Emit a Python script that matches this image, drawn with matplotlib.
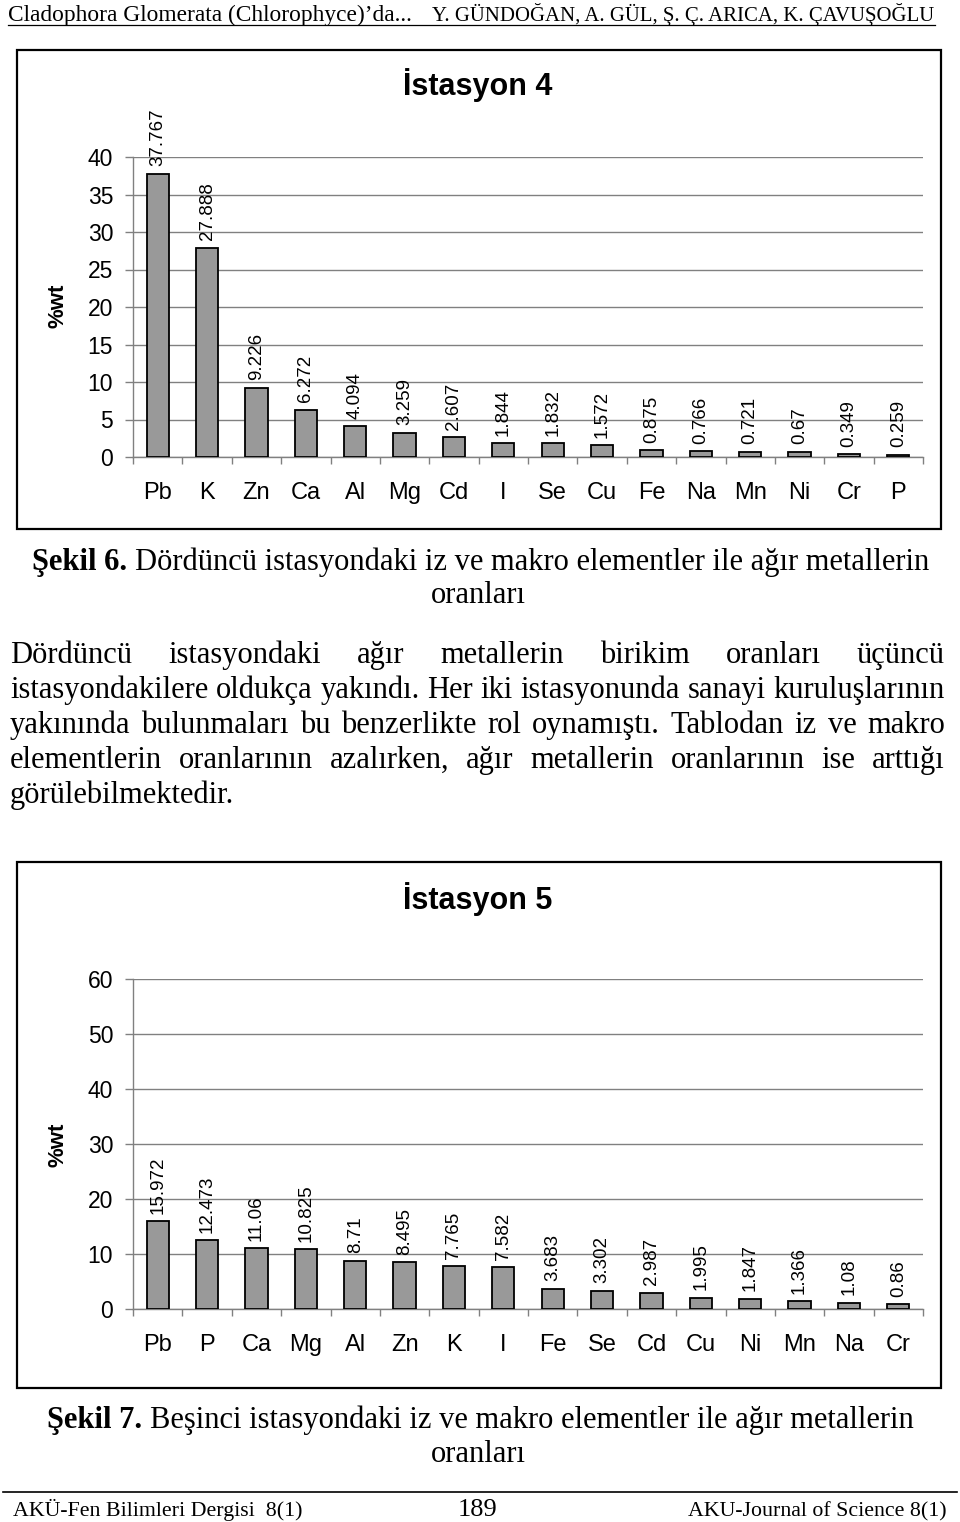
import numpy as np
import matplotlib
matplotlib.use("Agg")
import matplotlib.pyplot as plt
from matplotlib.patches import Rectangle
from matplotlib.lines import Line2D

# ---------------- data ----------------
st4_elements = ["Pb", "K", "Zn", "Ca", "Al", "Mg", "Cd", "I", "Se", "Cu",
                "Fe", "Na", "Mn", "Ni", "Cr", "P"]
st4_values = [37.767, 27.888, 9.226, 6.272, 4.094, 3.259, 2.607, 1.844,
              1.832, 1.572, 0.875, 0.766, 0.721, 0.67, 0.349, 0.259]
st4_yticks = [0, 5, 10, 15, 20, 25, 30, 35, 40]

st5_elements = ["Pb", "P", "Ca", "Mg", "Al", "Zn", "K", "I", "Fe", "Se",
                "Cd", "Cu", "Ni", "Mn", "Na", "Cr"]
st5_values = [15.972, 12.473, 11.06, 10.825, 8.71, 8.495, 7.765, 7.582,
              3.683, 3.302, 2.987, 1.995, 1.847, 1.366, 1.08, 0.86]
st5_yticks = [0, 10, 20, 30, 40, 50, 60]

header_left = "Cladophora Glomerata (Chlorophyce)\u2019da..."
header_right = "Y. GÜNDOĞAN, A. GÜL, Ş. Ç. ARICA, K. ÇAVUŞOĞLU"
caption6_bold = "Şekil 6."
caption6_rest = "Dördüncü istasyondaki iz ve makro elementler ile ağır metallerin"
caption7_bold = "Şekil 7."
caption7_rest = "Beşinci istasyondaki iz ve makro elementler ile ağır metallerin"
caption_line2 = "oranları"
paragraph_lines = [
    "Dördüncü istasyondaki ağır metallerin birikim oranları üçüncü",
    "istasyondakilere oldukça yakındı. Her iki istasyonunda sanayi kuruluşlarının",
    "yakınında bulunmaları bu benzerlikte rol oynamıştı. Tablodan iz ve makro",
    "elementlerin oranlarının azalırken, ağır metallerin oranlarının ise arttığı",
    "görülebilmektedir.",
]
footer_left = "AKÜ-Fen Bilimleri Dergisi  8(1)"
footer_mid = "189"
footer_right = "AKU-Journal of Science 8(1)"

# ---------------- figure ----------------
W, H, DPI = 960, 1522, 100
fig = plt.figure(figsize=(W / DPI, H / DPI), dpi=DPI)
fig.patch.set_facecolor("white")
renderer = fig.canvas.get_renderer()

SANS = "Liberation Sans"
SERIF = "Liberation Serif"
GRAY = "#808080"


def fx(x):
    return x / W


def fy(y):
    return 1 - y / H


def text_width(t):
    return t.get_window_extent(renderer).width


def fit_text(s, x0, x1, base_y, family=SERIF, size=14, weight="normal"):
    t = fig.text(0, 0, s, fontsize=size, family=family, va="baseline", weight=weight)
    w = text_width(t)
    t.set_fontsize(size * (x1 - x0) / w)
    t.set_position((fx(x0), fy(base_y)))
    return t


def hline(x0, x1, y, lw=1.0, color="black"):
    fig.add_artist(Line2D([fx(x0), fx(x1)], [fy(y), fy(y)],
                          transform=fig.transFigure, color=color, lw=lw))


def draw_chart(box, ax_rect, title_xy, ylabel_xy, cats, vals, yticks, title):
    bx0, by0, bx1, by1 = box
    fig.add_artist(Rectangle((fx(bx0), fy(by1)), (bx1 - bx0) / W, (by1 - by0) / H,
                             transform=fig.transFigure, fill=False,
                             ec="black", lw=1.6))
    l, t, r, b = ax_rect
    ax = fig.add_axes([fx(l), fy(b), (r - l) / W, (b - t) / H])
    n = len(cats)
    x = np.arange(n)
    bars = ax.bar(x, vals, width=0.45, color="#999999", edgecolor="black",
                  linewidth=1.3, zorder=3)
    for rect, v in zip(bars, vals):
        ax.annotate(f"{v:g}", (rect.get_x() + rect.get_width() / 2, rect.get_height()),
                    xytext=(0, 5.5), textcoords="offset points", rotation=90,
                    ha="center", va="bottom", fontsize=13.5, family=SANS, zorder=4)
    ax.set_xlim(-0.5, n - 0.5)
    ax.set_ylim(yticks[0], yticks[-1])
    ax.set_yticks(yticks)
    ax.set_yticklabels([str(v) for v in yticks], family=SANS)
    ax.yaxis.grid(True, color=GRAY, lw=1.0, zorder=0)
    ax.set_axisbelow(True)
    for s in ("top", "right"):
        ax.spines[s].set_visible(False)
    for s in ("left", "bottom"):
        ax.spines[s].set_color(GRAY)
        ax.spines[s].set_linewidth(1.0)
    ax.set_xticks(np.arange(n + 1) - 0.5)
    ax.set_xticklabels([])
    ax.set_xticks(x, minor=True)
    ax.set_xticklabels(cats, minor=True, family=SANS)
    ax.tick_params(axis="x", which="major", length=5, color=GRAY, width=1)
    ax.tick_params(axis="x", which="minor", length=0, pad=18, labelsize=17)
    ax.tick_params(axis="y", length=5.8, color=GRAY, width=1, pad=8.5, labelsize=16.5)
    ax.set_facecolor("none")
    fig.text(fx(title_xy[0]), fy(title_xy[1]), title, ha="center", va="center",
             fontsize=22, weight="bold", family=SANS)
    fig.text(fx(ylabel_xy[0]), fy(ylabel_xy[1]), "%wt", ha="center", va="center",
             rotation=90, fontsize=16, weight="bold", family=SANS)
    return ax


# ---------------- header ----------------
fit_text(header_left, 8, 412, 21, size=14)
fit_text(header_right, 432, 935, 21, size=14)
hline(8, 935, 24.5, lw=0.9)

# ---------------- chart 1 ----------------
draw_chart((17, 50, 941, 529), (133, 157, 923, 457), (478, 85), (58, 306),
           st4_elements, st4_values, st4_yticks, "İstasyon 4")

# ---------------- caption 6 ----------------
BODY = 22


def caption(bold, rest, x0, base_y):
    tb = fig.text(fx(x0), fy(base_y), bold, fontsize=BODY, family=SERIF,
                  weight="bold", va="baseline")
    wb = text_width(tb)
    fig.text(fx(x0 + wb + 7.5), fy(base_y), rest, fontsize=BODY, family=SERIF,
             va="baseline")


caption(caption6_bold, caption6_rest, 32, 570)
fig.text(fx(478), fy(603), caption_line2, fontsize=BODY, family=SERIF,
         va="baseline", ha="center")

# ---------------- paragraph (justified) ----------------
PX0, PX1 = 10, 945
base = 663
for i, line in enumerate(paragraph_lines):
    y = base + i * 35
    words = line.split()
    if i == len(paragraph_lines) - 1:
        fig.text(fx(PX0), fy(y), line, fontsize=BODY, family=SERIF, va="baseline")
        continue
    texts = [fig.text(0, 0, w, fontsize=BODY, family=SERIF, va="baseline") for w in words]
    widths = [text_width(t) for t in texts]
    gap = (PX1 - PX0 - sum(widths)) / (len(words) - 1)
    xx = PX0
    for t, w in zip(texts, widths):
        t.set_position((fx(xx), fy(y)))
        xx += w + gap

# ---------------- chart 2 ----------------
draw_chart((17, 862, 941, 1388), (133, 979, 923, 1309), (478, 899), (58, 1145),
           st5_elements, st5_values, st5_yticks, "İstasyon 5")

# ---------------- caption 7 ----------------
caption(caption7_bold, caption7_rest, 47, 1428)
fig.text(fx(478), fy(1462), caption_line2, fontsize=BODY, family=SERIF,
         va="baseline", ha="center")

# ---------------- footer ----------------
hline(3, 957, 1492, lw=1.2)
fit_text(footer_left, 13, 303, 1516, size=16)
fig.text(fx(478), fy(1516), footer_mid, fontsize=19, family=SERIF,
         va="baseline", ha="center")
fit_text(footer_right, 688, 947, 1516, size=16)

fig.savefig("out.png", dpi=DPI, facecolor="white")
